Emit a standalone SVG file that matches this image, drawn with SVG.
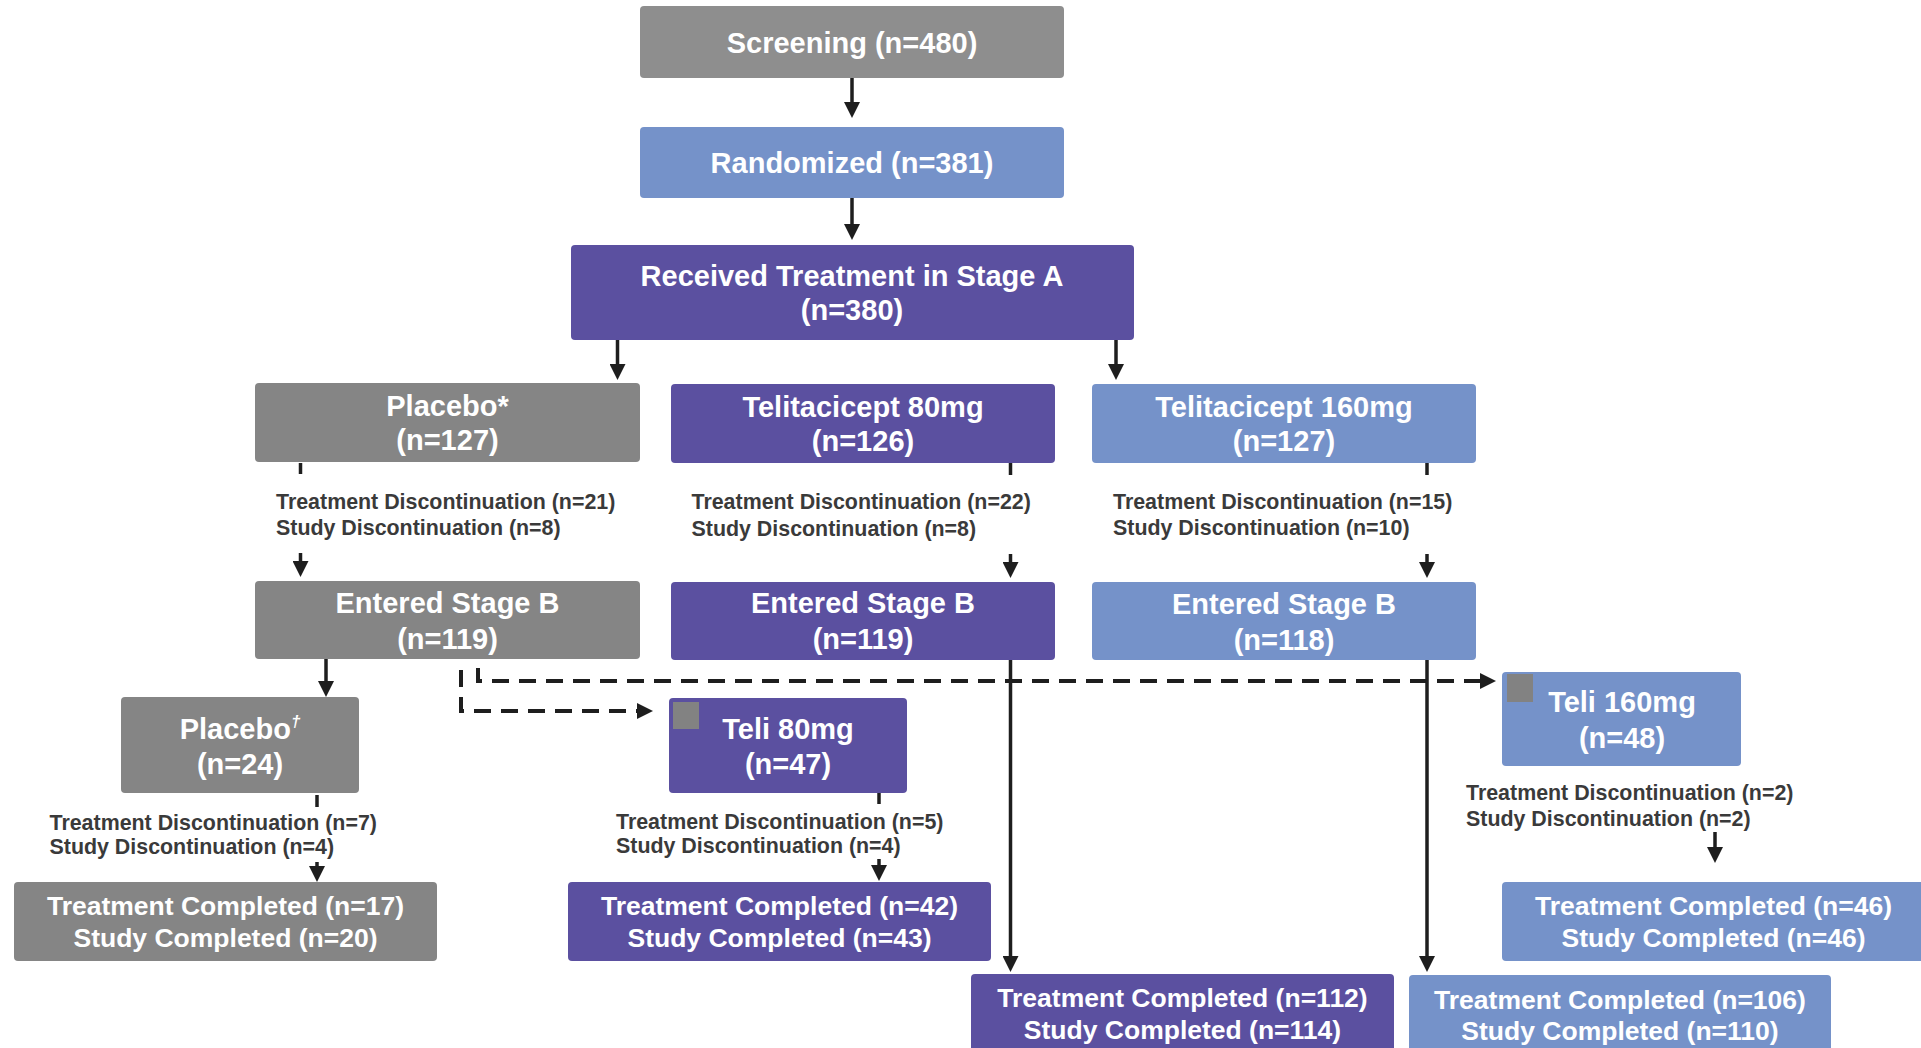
<svg xmlns="http://www.w3.org/2000/svg" width="1921" height="1048" viewBox="0 0 1921 1048">
<style>
.box{stroke:none}
.gray{fill:#858585}
.gray2{fill:#8e8e8e}
.blue{fill:#7592c9}
.purple{fill:#5b50a0}
.sq{fill:#828282}
.t{font-family:"Liberation Sans",Arial,sans-serif;font-weight:bold;fill:#ffffff;text-anchor:middle;font-size:29px}
.tc{font-family:"Liberation Sans",Arial,sans-serif;font-weight:bold;fill:#ffffff;text-anchor:middle;font-size:26.5px}
.d{font-family:"Liberation Sans",Arial,sans-serif;font-weight:bold;fill:#3a3a3a;font-size:21.4px}
.ln{stroke:#1e1e1e;stroke-width:3.5;fill:none}
.dash{stroke:#1e1e1e;stroke-width:4;fill:none;stroke-dasharray:17 10}
</style>
<defs>
<marker id="ah" viewBox="0 0 16 16" refX="6" refY="8" markerWidth="16" markerHeight="16" markerUnits="userSpaceOnUse" orient="auto">
<path d="M0,0 L16,8 L0,16 z" fill="#1e1e1e"/>
</marker>
</defs>

<g id="connectors">
<line class="ln" x1="852" y1="78" x2="852" y2="108" marker-end="url(#ah)"/>
<line class="ln" x1="852" y1="198" x2="852" y2="230" marker-end="url(#ah)"/>
<line class="ln" x1="617.5" y1="340" x2="617.5" y2="370" marker-end="url(#ah)"/>
<line class="ln" x1="1116" y1="340" x2="1116" y2="370" marker-end="url(#ah)"/>
<line class="ln" x1="300.5" y1="463" x2="300.5" y2="474" stroke-width="4"/>
<line class="ln" x1="300.5" y1="553" x2="300.5" y2="567" marker-end="url(#ah)"/>
<line class="ln" x1="1010.5" y1="463" x2="1010.5" y2="475" stroke-width="4"/>
<line class="ln" x1="1010.5" y1="554" x2="1010.5" y2="568" marker-end="url(#ah)"/>
<line class="ln" x1="1427" y1="463" x2="1427" y2="475" stroke-width="4"/>
<line class="ln" x1="1427" y1="554" x2="1427" y2="568" marker-end="url(#ah)"/>
<line class="ln" x1="326" y1="659" x2="326" y2="687" marker-end="url(#ah)"/>
<path class="dash" d="M461,670 V711 H643" marker-end="url(#ah)"/>
<path class="dash" d="M478,668 V681 H1486" marker-end="url(#ah)"/>
<line class="ln" x1="1010.5" y1="659" x2="1010.5" y2="962" marker-end="url(#ah)"/>
<line class="ln" x1="1427" y1="660" x2="1427" y2="962" marker-end="url(#ah)"/>
<line class="ln" x1="317" y1="795" x2="317" y2="807" stroke-width="4"/>
<line class="ln" x1="317" y1="862" x2="317" y2="872" marker-end="url(#ah)"/>
<line class="ln" x1="879" y1="793" x2="879" y2="804" stroke-width="4"/>
<line class="ln" x1="879" y1="859" x2="879" y2="871" marker-end="url(#ah)"/>
<line class="ln" x1="1715" y1="832" x2="1715" y2="853" marker-end="url(#ah)"/>
</g>

<g id="screening">
<rect class="box gray2" x="640" y="6" width="424" height="72" rx="4"/>
<text class="t" x="852" y="52.5">Screening (n=480)</text>
</g>
<g id="randomized">
<rect class="box blue" x="640" y="127" width="424" height="71" rx="4"/>
<text class="t" x="852" y="172.5">Randomized (n=381)</text>
</g>
<g id="received">
<rect class="box purple" x="571" y="245" width="563" height="95" rx="4"/>
<text class="t" x="852" y="285.5">Received Treatment in Stage A</text>
<text class="t" x="852" y="319.5">(n=380)</text>
</g>
<g id="placebo-a">
<rect class="box gray" x="255" y="383" width="385" height="79" rx="4"/>
<text class="t" x="447.5" y="415.5">Placebo*</text>
<text class="t" x="447.5" y="450">(n=127)</text>
</g>
<g id="teli80-a">
<rect class="box purple" x="671" y="384" width="384" height="79" rx="4"/>
<text class="t" x="863" y="416.5">Telitacicept 80mg</text>
<text class="t" x="863" y="451">(n=126)</text>
</g>
<g id="teli160-a">
<rect class="box blue" x="1092" y="384" width="384" height="79" rx="4"/>
<text class="t" x="1284" y="416.5">Telitacicept 160mg</text>
<text class="t" x="1284" y="451">(n=127)</text>
</g>
<g id="disc-placebo-a">
<text class="d" x="276" y="508.5">Treatment Discontinuation (n=21)</text>
<text class="d" x="276" y="535">Study Discontinuation (n=8)</text>
</g>
<g id="disc-teli80-a">
<text class="d" x="691.5" y="509">Treatment Discontinuation (n=22)</text>
<text class="d" x="691.5" y="535.5">Study Discontinuation (n=8)</text>
</g>
<g id="disc-teli160-a">
<text class="d" x="1113" y="508.5">Treatment Discontinuation (n=15)</text>
<text class="d" x="1113" y="535">Study Discontinuation (n=10)</text>
</g>
<g id="stageb-placebo">
<rect class="box gray" x="255" y="581" width="385" height="78" rx="4"/>
<text class="t" x="447.5" y="612.5">Entered Stage B</text>
<text class="t" x="447.5" y="648.5">(n=119)</text>
</g>
<g id="stageb-teli80">
<rect class="box purple" x="671" y="582" width="384" height="78" rx="4"/>
<text class="t" x="863" y="613">Entered Stage B</text>
<text class="t" x="863" y="649">(n=119)</text>
</g>
<g id="stageb-teli160">
<rect class="box blue" x="1092" y="582" width="384" height="78" rx="4"/>
<text class="t" x="1284" y="613.5">Entered Stage B</text>
<text class="t" x="1284" y="649.5">(n=118)</text>
</g>
<g id="placebo-b">
<rect class="box gray" x="121" y="697" width="238" height="96" rx="4"/>
<text class="t" x="240" y="738.5">Placebo<tspan font-size="17" font-style="italic" dy="-12">†</tspan></text>
<text class="t" x="240" y="773.5">(n=24)</text>
</g>
<g id="teli80-b">
<rect class="box purple" x="669" y="698" width="238" height="95" rx="4"/>
<rect class="sq" x="673" y="702" width="26" height="27"/>
<text class="t" x="788" y="739">Teli 80mg</text>
<text class="t" x="788" y="773.5">(n=47)</text>
</g>
<g id="teli160-b">
<rect class="box blue" x="1502" y="672" width="239" height="94" rx="4"/>
<rect class="sq" x="1507" y="674" width="26" height="28"/>
<text class="t" x="1622" y="711.5">Teli 160mg</text>
<text class="t" x="1622" y="747.5">(n=48)</text>
</g>
<g id="disc-placebo-b">
<text class="d" x="49.5" y="830">Treatment Discontinuation (n=7)</text>
<text class="d" x="49.5" y="854">Study Discontinuation (n=4)</text>
</g>
<g id="disc-teli80-b">
<text class="d" x="616" y="828.5">Treatment Discontinuation (n=5)</text>
<text class="d" x="616" y="852.5">Study Discontinuation (n=4)</text>
</g>
<g id="disc-teli160-b">
<text class="d" x="1466" y="800">Treatment Discontinuation (n=2)</text>
<text class="d" x="1466" y="825.5">Study Discontinuation (n=2)</text>
</g>
<g id="completed-placebo">
<rect class="box gray" x="14" y="882" width="423" height="79" rx="4"/>
<text class="tc" x="225.5" y="915">Treatment Completed (n=17)</text>
<text class="tc" x="225.5" y="946.5">Study Completed (n=20)</text>
</g>
<g id="completed-teli80-b">
<rect class="box purple" x="568" y="882" width="423" height="79" rx="4"/>
<text class="tc" x="779.5" y="915">Treatment Completed (n=42)</text>
<text class="tc" x="779.5" y="946.5">Study Completed (n=43)</text>
</g>
<g id="completed-teli160-b">
<rect class="box blue" x="1502" y="882" width="423" height="79" rx="4"/>
<text class="tc" x="1713.5" y="915">Treatment Completed (n=46)</text>
<text class="tc" x="1713.5" y="946.5">Study Completed (n=46)</text>
</g>
<g id="completed-teli80">
<rect class="box purple" x="971" y="974" width="423" height="84" rx="4"/>
<text class="tc" x="1182.5" y="1007">Treatment Completed (n=112)</text>
<text class="tc" x="1182.5" y="1038.5">Study Completed (n=114)</text>
</g>
<g id="completed-teli160">
<rect class="box blue" x="1409" y="975" width="422" height="84" rx="4"/>
<text class="tc" x="1620" y="1009">Treatment Completed (n=106)</text>
<text class="tc" x="1620" y="1040">Study Completed (n=110)</text>
</g>
</svg>
